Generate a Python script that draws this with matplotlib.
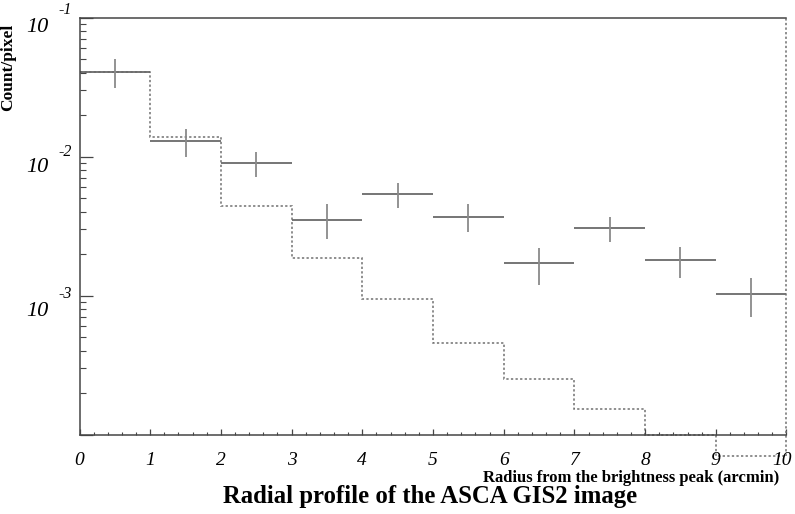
"""Radial profile of the ASCA GIS2 image (ROOT-style log plot)."""

import matplotlib

matplotlib.use("Agg")

import matplotlib.pyplot as plt
import matplotlib.transforms as mtransforms
import numpy as np
from matplotlib.ticker import LogLocator, MultipleLocator, NullFormatter

# ---- data ----
bin_edges = [0, 1, 2, 3, 4, 5, 6, 7, 8, 9, 10]
bin_centers = [0.5, 1.5, 2.5, 3.5, 4.5, 5.5, 6.5, 7.5, 8.5, 9.5]
counts = [0.0404, 0.0130, 0.00893, 0.00349, 0.00537, 0.00369, 0.00171, 0.00306, 0.00179, 0.00102]
err_hi = [0.0500, 0.01578, 0.01082, 0.00453, 0.00641, 0.00453, 0.00219, 0.00369, 0.00225, 0.00133]
err_lo = [0.0309, 0.00997, 0.00708, 0.00254, 0.00424, 0.00285, 0.00119, 0.00243, 0.00134, 0.000697]
model = [0.0404, 0.01388, 0.00440, 0.00187, 0.000944, 0.000453, 0.000250, 0.000152, 0.0001, 0.0000700]

ytick_values = [1e-1, 1e-2, 1e-3]
ytick_exps = ["-1", "-2", "-3"]
xtick_labels = [str(i) for i in range(11)]

serif = ["Liberation Serif", "DejaVu Serif"]
spine_col = "#454545"

fig = plt.figure(figsize=(7.95, 5.14), dpi=100)
ax = fig.add_axes([0.1, 1 - 434.5 / 514, 0.8893, (434.5 - 17.5) / 514])

ax.set_yscale("log")
ax.set_xlim(0, 10)
ax.set_ylim(1e-4, 1e-1)

# data crosses
ax.hlines(counts, bin_edges[:-1], bin_edges[1:], color="#6a6a6a", lw=1.3)
ax.vlines(bin_centers, err_lo, err_hi, color="#8a8a8a", lw=1.3)

# model histogram (dotted), runs below the frame like the original
ax.stairs(model, bin_edges, baseline=None, color="#707070", lw=1.1,
          linestyle=(0, (1.5, 1.5)), clip_on=False)
ax.vlines(bin_edges[-1], model[-1], ax.get_ylim()[1], color="#707070", lw=1.1,
          linestyle=(0, (1.5, 1.5)), clip_on=False)

# frame
for side in ("left", "bottom", "top"):
    ax.spines[side].set_color(spine_col)
    ax.spines[side].set_linewidth(1.1)
ax.spines["right"].set_visible(False)

# ticks
ax.xaxis.set_minor_locator(MultipleLocator(0.2))
ax.set_xticks(range(11))
ax.set_xticklabels(xtick_labels, family=serif, style="italic", fontsize=14)
ax.tick_params(axis="x", which="major", direction="in", length=4.5, width=0.9,
               color=spine_col, pad=12.5, top=False)
ax.tick_params(axis="x", which="minor", direction="in", length=2.3, width=0.8,
               color=spine_col, top=False)
last = ax.get_xticklabels()[-1]
last.set_transform(last.get_transform()
                   + mtransforms.ScaledTranslation(-4 / 100, 0, fig.dpi_scale_trans))

ax.yaxis.set_major_locator(LogLocator(base=10, numticks=10))
ax.yaxis.set_minor_locator(LogLocator(base=10, subs=np.arange(2, 10), numticks=10))
ax.yaxis.set_major_formatter(NullFormatter())
ax.yaxis.set_minor_formatter(NullFormatter())
ax.tick_params(axis="y", which="major", direction="in", length=9.3, width=0.9,
               color=spine_col, right=False)
ax.tick_params(axis="y", which="minor", direction="in", length=4.6, width=0.8,
               color=spine_col, right=False)

# ROOT-like "10^-n" labels
ytrans = ax.get_yaxis_transform()
base_dy = [-10.5, -11, -16]
exp_dy = [7.5, 5, 2]
for v, e, bdy, edy in zip(ytick_values, ytick_exps, base_dy, exp_dy):
    ax.annotate("10", xy=(0, v), xycoords=ytrans, xytext=(-42, bdy),
                textcoords="offset pixels", ha="center", va="center",
                family=serif, style="italic", fontsize=16, annotation_clip=False)
    ax.annotate(e, xy=(0, v), xycoords=ytrans, xytext=(-14.5, edy),
                textcoords="offset pixels", ha="center", va="center",
                family=serif, style="italic", fontsize=11.5, annotation_clip=False)

# labels
fig.text(779 / 795, 1 - 478 / 514, "Radius from the brightness peak (arcmin)",
         ha="right", va="center", family=serif, weight="bold", fontsize=12)
fig.text(8 / 795, 1 - 67.5 / 514, "Count/pixel", rotation=90, ha="center",
         va="center", family=serif, weight="bold", fontsize=12.5)
fig.text(430 / 795, 1 - 497 / 514, "Radial profile of the ASCA GIS2 image",
         ha="center", va="center", family=serif, weight="bold", fontsize=17.8)

fig.savefig("out.png", dpi=100)
